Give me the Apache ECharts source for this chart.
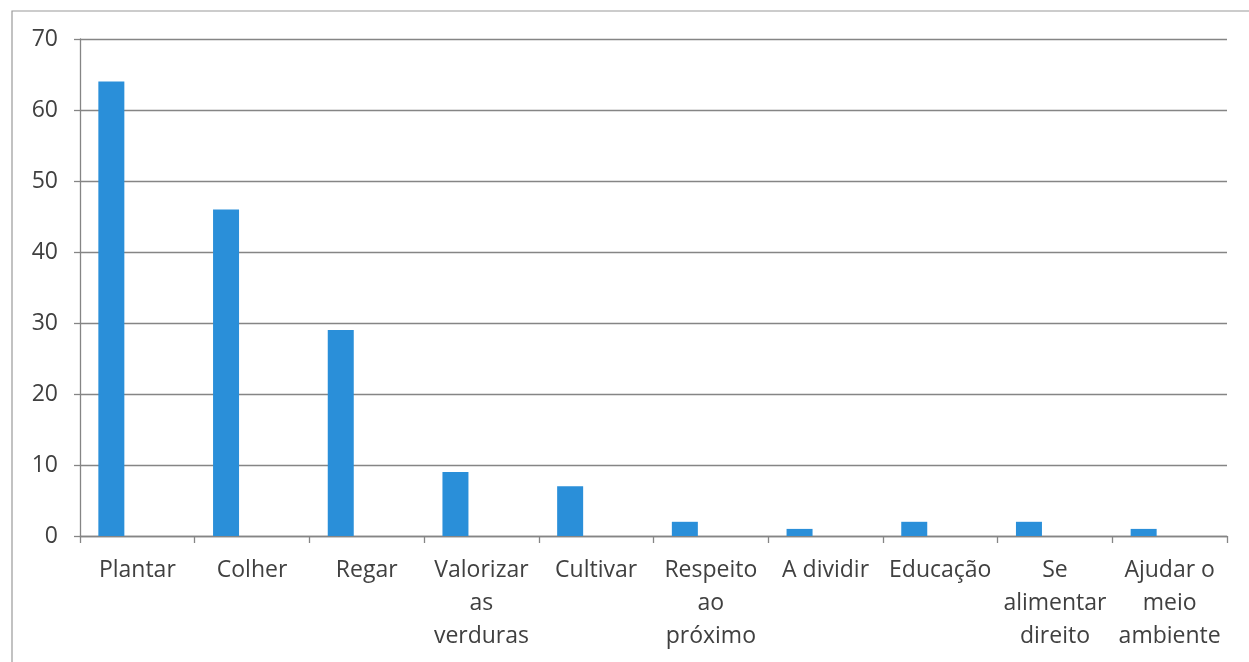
<!DOCTYPE html>
<html>
<head>
<meta charset="utf-8">
<style>
  html, body { margin: 0; padding: 0; background: #fff; }
  #chart { width: 1249px; height: 662px; }
</style>
<script src="https://cdn.jsdelivr.net/npm/echarts@6/dist/echarts.min.js"></script>
</head>
<body>
<div id="chart"></div>
<script>
// Categories and counts of answers
const categories = ['Plantar', 'Colher', 'Regar', 'Valorizar as verduras', 'Cultivar',
  'Respeito ao próximo', 'A dividir', 'Educação', 'Se alimentar direito', 'Ajudar o meio ambiente'];
const tickLabels = ['Plantar', 'Colher', 'Regar', 'Valorizar\nas\nverduras', 'Cultivar',
  'Respeito\nao\npróximo', 'A dividir', 'Educação', 'Se\nalimentar\ndireito', 'Ajudar o\nmeio\nambiente'];
const values = [64, 46, 29, 9, 7, 2, 1, 2, 2, 1];
// two further (empty) series keep the clustered bar slots
const emptySeries = [[], []];
const yTicks = { min: 0, max: 70, interval: 10 };

const textColor = '#404040';
const gridColor = '#858585';
const font = '"Open Sans", Lato, sans-serif';

const chart = echarts.init(document.getElementById('chart'), null, { renderer: 'canvas' });

const labelByCategory = {};
categories.forEach((c, i) => { labelByCategory[c] = tickLabels[i]; });

chart.setOption({
  animation: false,
  backgroundColor: '#ffffff',
  graphic: [{
    type: 'rect',
    shape: { x: 12, y: 11, width: 1300, height: 700 },
    style: { fill: 'none', stroke: '#9a9a9a', lineWidth: 1.2 },
    silent: true
  }],
  grid: { left: 80, right: 22, top: 39, bottom: 126 },
  xAxis: {
    type: 'category',
    data: categories,
    axisLine: { show: true, lineStyle: { color: gridColor, width: 1.3 } },
    axisTick: { show: true, alignWithLabel: false, interval: 0, length: 7, lineStyle: { color: gridColor, width: 1.3 } },
    axisLabel: {
      interval: 0,
      margin: 18,
      color: textColor,
      fontFamily: font,
      fontSize: 23,
      lineHeight: 33,
      align: 'center',
      formatter: (v) => labelByCategory[v]
    }
  },
  yAxis: {
    type: 'value',
    min: yTicks.min,
    max: yTicks.max,
    interval: yTicks.interval,
    axisLine: { show: true, lineStyle: { color: gridColor, width: 1.3 } },
    axisTick: { show: true, length: 6, lineStyle: { color: gridColor, width: 1.3 } },
    splitLine: { show: true, lineStyle: { color: gridColor, width: 1.3 } },
    axisLabel: { margin: 22, color: textColor, fontFamily: font, fontSize: 23 }
  },
  series: [
    { type: 'bar', data: values, barWidth: 26, barGap: '0%', itemStyle: { color: '#2a8fd9' } },
    { type: 'bar', data: emptySeries[0], barWidth: 26, barGap: '0%' },
    { type: 'bar', data: emptySeries[1], barWidth: 26, barGap: '0%' }
  ]
});
</script>
</body>
</html>
